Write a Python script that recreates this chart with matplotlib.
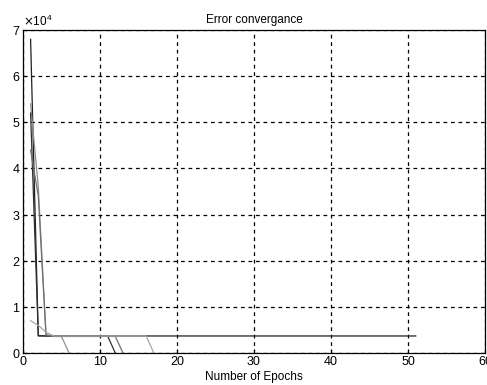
import numpy as np
import matplotlib
matplotlib.use("Agg")
import matplotlib.pyplot as plt

plt.rcParams['font.family'] = ['Liberation Sans', 'DejaVu Sans']

# error per epoch for several training runs
run1 = [68000, 3700] + [3700] * 49
run2 = [54000, 36000, 4000, 3600, 3600, 0]
run3 = [52000, 3800] + [3700] * 9 + [0]
run4 = [44000, 34000, 3900] + [3600] * 9 + [0]
run5 = [7000, 6000, 4500] + [3700] * 13 + [0]
runs = [run1, run2, run3, run4, run5]
colors = ['#202020', '#909090', '#303030', '#707070', '#a8a8a8']

fig = plt.figure(figsize=(4.87, 3.85), dpi=100)
ax = fig.add_axes([0.047, 0.083, 0.949, 0.839])
for r, c in zip(runs, colors):
    ep = np.arange(1, len(r) + 1)
    ax.plot(ep, r, color=c, linewidth=0.9)

ax.set_xlim(0, 60)
ax.set_ylim(0, 70000)
ax.set_xticks(np.arange(0, 61, 10))
ax.set_yticks(np.arange(0, 70001, 10000))
ax.ticklabel_format(axis='y', style='sci', scilimits=(0, 0), useMathText=True)
ax.yaxis.get_offset_text().set_fontsize(8.5)
ax.grid(True, color='black', linestyle=(0, (3, 3)), linewidth=0.9)
ax.tick_params(direction='in', labelsize=9, length=3, pad=2)
for s in ax.spines.values():
    s.set_linewidth(0.9)
ax.set_title("Error convergance", fontsize=8.5, pad=5)
ax.set_xlabel("Number of Epochs", fontsize=8.5, labelpad=2)
fig.savefig("out.png", dpi=100)
